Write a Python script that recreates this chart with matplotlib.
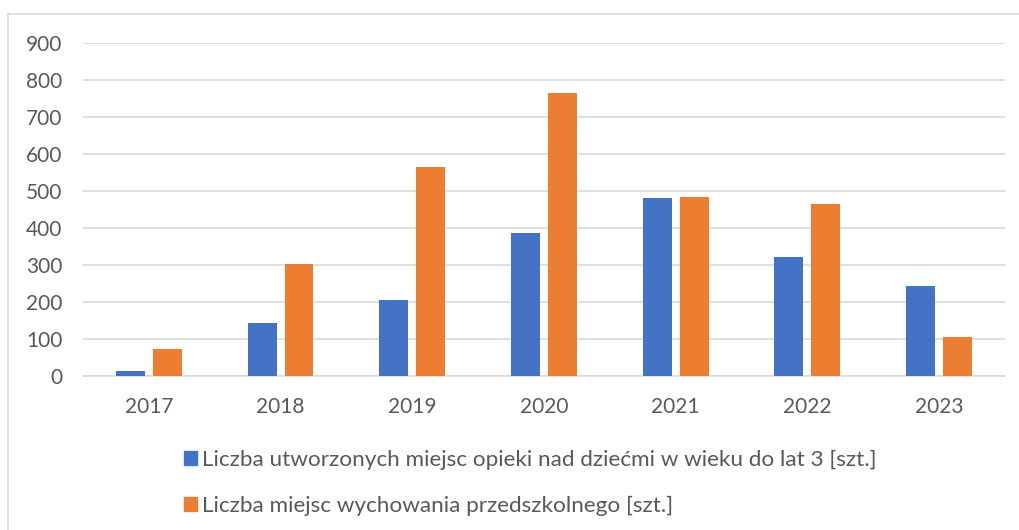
import numpy as np
import matplotlib.pyplot as plt
from matplotlib.lines import Line2D
from matplotlib.patches import Patch

# dane
lata = ['2017', '2018', '2019', '2020', '2021', '2022', '2023']
miejsca_do_3 = [14, 143, 206, 385, 480, 321, 243]
miejsca_przedszkolne = [74, 302, 564, 764, 482, 463, 105]
etykiety = ['Liczba utworzonych miejsc opieki nad dziećmi w wieku do lat 3 [szt.]',
            'Liczba miejsc wychowania przedszkolnego [szt.]']
kolory = ['#4472C4', '#ED7D31']

plt.rcParams['font.family'] = ['Lato', 'DejaVu Sans']

fig = plt.figure(figsize=(10.19, 5.30), dpi=100)
ax = fig.add_axes([83 / 1019, 1 - 376 / 530, 922 / 1019, (376 - 42.6) / 530])

x = np.arange(len(lata))
w = 0.22
ax.bar(x - 0.14, miejsca_do_3, w, color=kolory[0], zorder=3)
ax.bar(x + 0.14, miejsca_przedszkolne, w, color=kolory[1], zorder=3)

ax.set_xlim(-0.5, len(lata) - 0.5)
ax.set_ylim(0, 900)
ax.set_yticks(range(0, 901, 100))
ax.set_xticks(x)
ax.set_xticklabels(lata)
ax.grid(axis='y', color='#D9D9D9', linewidth=1.2, zorder=0)
for s in ['top', 'right', 'left']:
    ax.spines[s].set_visible(False)
ax.spines['bottom'].set_color('#D9D9D9')
ax.spines['bottom'].set_linewidth(1.2)
ax.tick_params(axis='both', length=0, labelsize=15, colors='#595959')
ax.tick_params(axis='y', pad=15)
ax.tick_params(axis='x', pad=15)

# legenda
uchwyty = [Patch(color=kolory[0]), Patch(color=kolory[1])]
leg = fig.legend(uchwyty, etykiety, loc='upper left', bbox_to_anchor=(184 / 1019, 1 - 450 / 530),
                 frameon=False, fontsize=16.2, labelcolor='#595959', handlelength=0.58,
                 handleheight=0.58, handletextpad=0.2, labelspacing=1.15,
                 borderpad=0, borderaxespad=0)

# ramka
fig.add_artist(Line2D([8 / 1019, 8 / 1019], [0, 1 - 14 / 530], color='#D9D9D9', linewidth=1.2))
fig.add_artist(Line2D([8 / 1019, 1], [1 - 14 / 530, 1 - 14 / 530], color='#D9D9D9', linewidth=1.2))

fig.savefig('out.png', dpi=100)
